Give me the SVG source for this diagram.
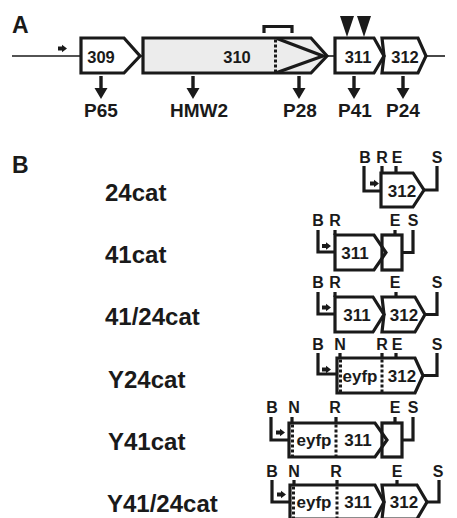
<svg xmlns="http://www.w3.org/2000/svg" xmlns:xlink="http://www.w3.org/1999/xlink" width="457" height="518" viewBox="0 0 457 518">
<style>
.box{fill:#fff;stroke:#1a1a1a;stroke-width:3.2;stroke-linejoin:miter}
.gray{fill:#ececec}
.nf{fill:none;stroke:#1a1a1a;stroke-width:3.2}
.ln{fill:none;stroke:#1a1a1a;stroke-width:3.2;stroke-linejoin:miter}
.thin{fill:none;stroke:#1a1a1a;stroke-width:1.6}
.dot{fill:none;stroke:#1a1a1a;stroke-width:3;stroke-dasharray:3 2}
.blk{fill:#1a1a1a}
text{font-family:"Liberation Sans",Arial,Helvetica,sans-serif;font-weight:bold;fill:#1a1a1a}
.big{font-size:23px}
.row{font-size:24px}
.gn{font-size:16.5px;text-anchor:middle}
.pl{font-size:19px;text-anchor:middle}
.site{font-size:16px;text-anchor:middle}
.cn{font-size:17px;text-anchor:middle}
</style>
<defs>
<path id="pa" d="M0,-2 H4 V-3.8 L9,0 L4,3.8 V2 H0 Z"/>
<path id="da" d="M-1.7,0 V12 H-6.5 L0,23 L6.5,12 H1.7 V0 Z"/>
</defs>

<!-- Panel A -->
<text class="big" x="12" y="33">A</text>

<g id="connectors-A">
<line class="thin" x1="12" y1="56" x2="81" y2="56"/>
<line class="thin" x1="140" y1="56" x2="143" y2="56"/>
<line class="thin" x1="327" y1="56" x2="335" y2="56"/>
<line class="thin" x1="426" y1="56" x2="445" y2="56"/>
<use xlink:href="#pa" class="blk" x="58" y="48.5"/>
<use xlink:href="#da" class="blk" x="101" y="76"/>
<use xlink:href="#da" class="blk" x="193" y="76"/>
<use xlink:href="#da" class="blk" x="299" y="76"/>
<use xlink:href="#da" class="blk" x="354" y="76"/>
<use xlink:href="#da" class="blk" x="403" y="76"/>
</g>

<g id="gene309">
<polygon class="box" points="81,38 124,38 140,56 124,73 81,73"/>
<text class="gn" x="101" y="63">309</text>
<text class="pl" x="101" y="117">P65</text>
</g>

<g id="gene310">
<polygon class="box gray" points="143,38 311,38 327,56 311,73 143,73"/>
<line class="dot" x1="275.5" y1="39.5" x2="275.5" y2="72"/>
<path class="ln" d="M277,38.5 L323,56 L277,72.5" stroke-width="2.5"/>
<path class="ln" d="M264,33 V26.5 H292 V33"/>
<text class="gn" x="237" y="63">310</text>
<text class="pl" x="199" y="117">HMW2</text>
<text class="pl" x="300" y="117">P28</text>
</g>

<g id="gene312">
<polygon class="box" points="382,38 418,38 426,56 418,73 382,73 384,56"/>
<text class="gn" x="405" y="63">312</text>
<text class="pl" x="403" y="117">P24</text>
</g>

<g id="gene311">
<polygon class="box" points="335,38 374,38 384,56 374,73 335,73"/>
<polygon class="blk" points="340,16 354,16 347,37"/>
<polygon class="blk" points="357,16 371,16 364,37"/>
<text class="gn" x="358" y="63">311</text>
<text class="pl" x="355" y="117">P41</text>
</g>

<!-- Panel B -->
<text class="big" x="12" y="173">B</text>

<g id="c24cat">
<text class="row" x="105" y="201">24cat</text>
<path class="ln" d="M364,166 V191 H381"/>
<path class="ln" d="M382,166 V173 M396,166 V173 M424,190 H437 V166"/>
<use xlink:href="#pa" class="blk" x="370" y="183.5"/>
<polygon class="box" points="381,173 413,173 424,190 413,207 381,207"/>
<text class="cn" x="402" y="197">312</text>
<text class="site" x="365" y="163">B</text>
<text class="site" x="382" y="163">R</text>
<text class="site" x="397" y="163">E</text>
<text class="site" x="437" y="163">S</text>
</g>

<g id="c41cat">
<text class="row" x="105" y="263">41cat</text>
<path class="ln" d="M318,230 V252 H335"/>
<path class="ln" d="M335,230 V235 M395,230 V235 M402,252.5 H413 V230"/>
<use xlink:href="#pa" class="blk" x="322" y="246"/>
<polygon class="box" points="335,235 374,235 386,252.5 374,270 335,270"/>
<rect class="nf" x="382" y="235" width="20" height="35"/>
<text class="cn" x="355" y="259">311</text>
<text class="site" x="318" y="226">B</text>
<text class="site" x="335" y="226">R</text>
<text class="site" x="395" y="226">E</text>
<text class="site" x="413" y="226">S</text>
</g>

<g id="c41-24cat">
<text class="row" x="105" y="325">41/24cat</text>
<path class="ln" d="M318,292 V314 H335"/>
<path class="ln" d="M335,292 V297 M396,292 V297 M425,314.5 H437 V292"/>
<use xlink:href="#pa" class="blk" x="322" y="307.5"/>
<polygon class="box" points="382,297 415,297 425,314.5 415,332 382,332 384,314.5"/>
<polygon class="box" points="335,297 373,297 384,314.5 373,332 335,332"/>
<text class="cn" x="357" y="321">311</text>
<text class="cn" x="404" y="321">312</text>
<text class="site" x="318" y="288">B</text>
<text class="site" x="335" y="288">R</text>
<text class="site" x="395" y="288">E</text>
<text class="site" x="437" y="288">S</text>
</g>

<g id="cY24cat">
<text class="row" x="108" y="388">Y24cat</text>
<path class="ln" d="M318,353 V374 H337"/>
<path class="ln" d="M340,353 V358 M382,353 V358 M396,353 V358 M423,375.5 H437 V353"/>
<use xlink:href="#pa" class="blk" x="322" y="369.5"/>
<polygon class="box" points="337,358 415,358 423,375.5 415,393 337,393"/>
<line class="dot" x1="340.5" y1="359.5" x2="340.5" y2="392"/>
<line class="dot" x1="382" y1="359.5" x2="382" y2="392"/>
<text class="cn" x="360" y="382" font-size="16">eyfp</text>
<text class="cn" x="402" y="382">312</text>
<text class="site" x="318" y="350">B</text>
<text class="site" x="340" y="350">N</text>
<text class="site" x="382" y="350">R</text>
<text class="site" x="397" y="350">E</text>
<text class="site" x="437" y="350">S</text>
</g>

<g id="cY41cat">
<text class="row" x="108" y="450">Y41cat</text>
<path class="ln" d="M271,417 V440 H289"/>
<path class="ln" d="M292,417 V423 M336,417 V423 M395,417 V423 M402,440 H413 V417"/>
<use xlink:href="#pa" class="blk" x="276" y="432.5"/>
<polygon class="box" points="289,423 375,423 387,440 375,457 289,457"/>
<rect class="nf" x="382" y="423" width="20" height="34"/>
<line class="dot" x1="292.5" y1="424.5" x2="292.5" y2="456"/>
<line class="dot" x1="336" y1="424.5" x2="336" y2="456"/>
<text class="cn" x="314" y="446">eyfp</text>
<text class="cn" x="358" y="446">311</text>
<text class="site" x="272" y="413">B</text>
<text class="site" x="294" y="413">N</text>
<text class="site" x="335" y="413">R</text>
<text class="site" x="395" y="413">E</text>
<text class="site" x="413" y="413">S</text>
</g>

<g id="cY41-24cat">
<text class="row" x="107" y="512">Y41/24cat</text>
<path class="ln" d="M272,480 V502 H290"/>
<path class="ln" d="M294,480 V485 M337,480 V485 M397,480 V485 M427,502 H439 V480"/>
<use xlink:href="#pa" class="blk" x="277" y="494.5"/>
<polygon class="box" points="382,485 417,485 427,502 417,519 382,519 384,502"/>
<polygon class="box" points="290,485 375,485 384,502 375,519 290,519"/>
<line class="dot" x1="293.5" y1="486.5" x2="293.5" y2="518"/>
<line class="dot" x1="337" y1="486.5" x2="337" y2="518"/>
<text class="cn" x="314" y="508">eyfp</text>
<text class="cn" x="358" y="508">311</text>
<text class="cn" x="404" y="508">312</text>
<text class="site" x="272" y="477">B</text>
<text class="site" x="294" y="477">N</text>
<text class="site" x="336" y="477">R</text>
<text class="site" x="397" y="477">E</text>
<text class="site" x="438" y="477">S</text>
</g>
</svg>
